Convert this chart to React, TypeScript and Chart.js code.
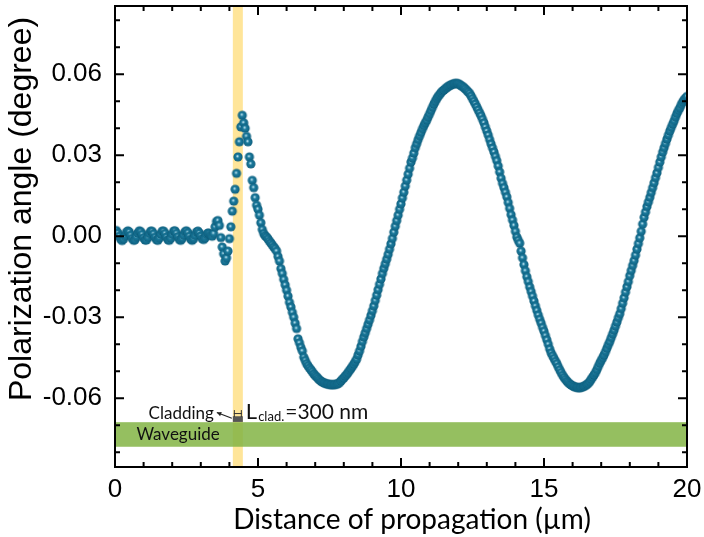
import React, { useEffect, useRef } from "react";
import { Chart, registerables } from "chart.js";

Chart.register(...registerables);

// ---- data (polarization angle sampled every 0.05 µm from 0 to 20 µm) ----
const DISTANCE_START = 0;
const DISTANCE_STEP = 0.05;
const polarizationAngle: number[] = [
  // 0.00 – 0.95
  0.0018, 0.0021, 0.0012, 0.0000, -0.0011, -0.0016, -0.0010, 0.0002, 0.0015, 0.0020, 0.0016, 0.0004, -0.0008, -0.0015, -0.0013, -0.0002, 0.0012, 0.0020, 0.0017, 0.0007,
  // 1.00 – 1.95
  -0.0006, -0.0014, -0.0014, -0.0004, 0.0010, 0.0019, 0.0018, 0.0009, -0.0004, -0.0013, -0.0015, -0.0006, 0.0008, 0.0019, 0.0019, 0.0010, -0.0003, -0.0013, -0.0015, -0.0007,
  // 2.00 – 2.95
  0.0007, 0.0019, 0.0020, 0.0011, -0.0002, -0.0012, -0.0015, -0.0008, 0.0005, 0.0017, 0.0020, 0.0013, 0.0000, -0.0011, -0.0015, -0.0009, 0.0004, 0.0016, 0.0019, 0.0012,
  // 3.00 – 3.95
  0.0001, -0.0009, -0.0012, -0.0006, 0.0006, 0.0012, 0.0010, 0.0004, 0.0000, 0.0010, 0.0035, 0.0055, 0.0058, 0.0040, -0.0005, -0.0040, -0.0065, -0.0092, -0.0080, -0.0055,
  // 4.00 – 4.95
  -0.0009, 0.0035, 0.0093, 0.0130, 0.0174, 0.0233, 0.0294, 0.0350, 0.0405, 0.0448, 0.0420, 0.0400, 0.0370, 0.0350, 0.0294, 0.0268, 0.0207, 0.0180, 0.0143, 0.0115,
  // 5.00 – 5.95
  0.0100, 0.0078, 0.0050, 0.0025, 0.0010, 0.0002, -0.0003, -0.0010, -0.0018, -0.0025, -0.0032, -0.0040, -0.0046, -0.0055, -0.0075, -0.0092, -0.0120, -0.0138, -0.0160, -0.0180,
  // 6.00 – 6.95
  -0.0200, -0.0222, -0.0245, -0.0262, -0.0282, -0.0300, -0.0322, -0.0342, -0.0380, -0.0395, -0.0412, -0.0425, -0.0448, -0.0460, -0.0472, -0.0480, -0.0488, -0.0495, -0.0502, -0.0510,
  // 7.00 – 7.95
  -0.0516, -0.0521, -0.0527, -0.0532, -0.0537, -0.0540, -0.0543, -0.0545, -0.0547, -0.0548, -0.0549, -0.0550, -0.0550, -0.0550, -0.0549, -0.0548, -0.0546, -0.0542, -0.0536, -0.0530,
  // 8.00 – 8.95
  -0.0525, -0.0518, -0.0512, -0.0505, -0.0497, -0.0490, -0.0482, -0.0474, -0.0465, -0.0455, -0.0440, -0.0425, -0.0408, -0.0390, -0.0373, -0.0358, -0.0342, -0.0326, -0.0310, -0.0293,
  // 9.00 – 9.95
  -0.0276, -0.0258, -0.0238, -0.0218, -0.0198, -0.0178, -0.0158, -0.0138, -0.0119, -0.0102, -0.0085, -0.0067, -0.0048, -0.0028, -0.0008, 0.0015, 0.0037, 0.0058, 0.0078, 0.0100,
  // 10.00 – 10.95
  0.0120, 0.0142, 0.0163, 0.0186, 0.0208, 0.0230, 0.0252, 0.0275, 0.0290, 0.0308, 0.0328, 0.0343, 0.0358, 0.0372, 0.0385, 0.0398, 0.0410, 0.0420, 0.0430, 0.0442,
  // 11.00 – 11.95
  0.0454, 0.0466, 0.0478, 0.0490, 0.0500, 0.0510, 0.0518, 0.0525, 0.0532, 0.0538, 0.0542, 0.0547, 0.0551, 0.0555, 0.0558, 0.0561, 0.0563, 0.0565, 0.0566, 0.0566,
  // 12.00 – 12.95
  0.0565, 0.0562, 0.0558, 0.0555, 0.0551, 0.0546, 0.0540, 0.0535, 0.0529, 0.0520, 0.0510, 0.0500, 0.0490, 0.0479, 0.0468, 0.0457, 0.0446, 0.0433, 0.0420, 0.0405,
  // 13.00 – 13.95
  0.0390, 0.0375, 0.0358, 0.0342, 0.0327, 0.0312, 0.0296, 0.0280, 0.0260, 0.0238, 0.0215, 0.0196, 0.0180, 0.0163, 0.0146, 0.0125, 0.0103, 0.0080, 0.0060, 0.0040,
  // 14.00 – 14.95
  0.0018, -0.0003, -0.0015, -0.0026, -0.0055, -0.0080, -0.0105, -0.0128, -0.0150, -0.0168, -0.0188, -0.0205, -0.0222, -0.0240, -0.0258, -0.0275, -0.0292, -0.0308, -0.0322, -0.0338,
  // 15.00 – 15.95
  -0.0352, -0.0368, -0.0384, -0.0400, -0.0418, -0.0432, -0.0443, -0.0453, -0.0463, -0.0472, -0.0484, -0.0495, -0.0505, -0.0515, -0.0523, -0.0530, -0.0537, -0.0542, -0.0547, -0.0551,
  // 16.00 – 16.95
  -0.0554, -0.0557, -0.0559, -0.0560, -0.0561, -0.0561, -0.0560, -0.0558, -0.0556, -0.0553, -0.0549, -0.0545, -0.0538, -0.0530, -0.0522, -0.0514, -0.0505, -0.0494, -0.0482, -0.0470,
  // 17.00 – 17.95
  -0.0460, -0.0450, -0.0440, -0.0428, -0.0415, -0.0402, -0.0390, -0.0376, -0.0362, -0.0348, -0.0333, -0.0318, -0.0302, -0.0287, -0.0268, -0.0248, -0.0228, -0.0207, -0.0187, -0.0168,
  // 18.00 – 18.95
  -0.0146, -0.0127, -0.0108, -0.0090, -0.0070, -0.0048, -0.0027, -0.0006, 0.0018, 0.0045, 0.0070, 0.0090, 0.0110, 0.0127, 0.0144, 0.0162, 0.0180, 0.0198, 0.0217, 0.0235,
  // 19.00 – 19.95
  0.0255, 0.0275, 0.0294, 0.0312, 0.0328, 0.0344, 0.0360, 0.0375, 0.0390, 0.0403, 0.0416, 0.0428, 0.0442, 0.0455, 0.0466, 0.0476, 0.0488, 0.0498, 0.0506, 0.0512,
  // 20.00
  0.0518,
];

// ---- axes ----
const X_MIN = 0;
const X_MAX = 20;
const Y_MIN = -0.0855;
const Y_MAX = 0.0853;
const X_MAJOR_TICKS = [0, 5, 10, 15, 20];
const X_TICK_LABELS = ["0", "5", "10", "15", "20"];
const X_MINOR_TICKS = [1, 2, 3, 4, 6, 7, 8, 9, 11, 12, 13, 14, 16, 17, 18, 19];
const Y_MAJOR_TICKS = [-0.06, -0.03, 0, 0.03, 0.06];
const Y_TICK_LABELS = ["-0.06", "-0.03", "0.00", "0.03", "0.06"];
const Y_MINOR_TICKS = [-0.08, -0.07, -0.05, -0.04, -0.02, -0.01, 0.01, 0.02, 0.04, 0.05, 0.07, 0.08];
const X_TITLE = "Distance of propagation (\u00b5m)";
const Y_TITLE = "Polarization angle (degree)";

// ---- annotation regions (data units) ----
const CLADDING_START = 4.12;
const CLADDING_END = 4.47;
const WAVEGUIDE_TOP = -0.0689;
const WAVEGUIDE_BOTTOM = -0.078;
const CLAD_BLOCK_TOP = -0.0667;
const CLAD_BLOCK_BOTTOM = -0.0688;
const BRACKET_Y = -0.0657;
const CLADDING_LABEL = "Cladding";
const WAVEGUIDE_LABEL = "Waveguide";
const LENGTH_LABEL_MAIN = "L";
const LENGTH_LABEL_SUB = "clad.";
const LENGTH_LABEL_VALUE = "=300 nm";

const TICK_FONT = "'Liberation Sans', Arial, sans-serif";
const TITLE_FONT_X = "Lato, 'Open Sans', sans-serif";
const NOTE_FONT = "Lato, 'Open Sans', sans-serif";

function makeSphere(r: number): HTMLCanvasElement {
  const size = Math.ceil(r * 2) + 2;
  const c = document.createElement("canvas");
  c.width = size;
  c.height = size;
  const g = c.getContext("2d")!;
  const cx = size / 2;
  const cy = size / 2;
  const grad = g.createRadialGradient(cx - r * 0.15, cy - r * 0.2, 0, cx, cy, r);
  grad.addColorStop(0, "#f2fbfe");
  grad.addColorStop(0.16, "#8cc6da");
  grad.addColorStop(0.38, "#1d7a9c");
  grad.addColorStop(0.8, "#126a8b");
  grad.addColorStop(1, "#0c5a78");
  g.fillStyle = grad;
  g.beginPath();
  g.arc(cx, cy, r, 0, Math.PI * 2);
  g.fill();
  return c;
}

const decorPlugin = {
  id: "decor",
  beforeDatasetsDraw(chart: any) {
    const { ctx, chartArea: a, scales } = chart;
    const x = scales.x;
    const y = scales.y;
    ctx.save();
    ctx.beginPath();
    ctx.rect(a.left, a.top, a.right - a.left, a.bottom - a.top);
    ctx.clip();
    const x1 = x.getPixelForValue(CLADDING_START);
    const x2 = x.getPixelForValue(CLADDING_END);
    ctx.fillStyle = "#ffe599";
    ctx.fillRect(x1, a.top, x2 - x1, a.bottom - a.top);
    const yT = y.getPixelForValue(WAVEGUIDE_TOP);
    const yB = y.getPixelForValue(WAVEGUIDE_BOTTOM);
    ctx.fillStyle = "rgba(130,180,68,0.85)";
    ctx.fillRect(a.left, yT, a.right - a.left, yB - yT);
    ctx.restore();
  },
  afterDatasetsDraw(chart: any) {
    const { ctx, chartArea: a, scales } = chart;
    const x = scales.x;
    const y = scales.y;
    ctx.save();

    // cladding block + bracket
    const x1 = x.getPixelForValue(CLADDING_START);
    const x2 = x.getPixelForValue(CLADDING_END);
    const bT = y.getPixelForValue(CLAD_BLOCK_TOP);
    const bB = y.getPixelForValue(CLAD_BLOCK_BOTTOM);
    ctx.fillStyle = "#555555";
    ctx.fillRect(x1, bT, x2 - x1, bB - bT);
    const by = y.getPixelForValue(BRACKET_Y);
    ctx.strokeStyle = "#333333";
    ctx.lineWidth = 1;
    ctx.beginPath();
    ctx.moveTo(x1 + 1, by);
    ctx.lineTo(x2 - 1, by);
    ctx.moveTo(x1 + 1.5, by - 3.5);
    ctx.lineTo(x1 + 1.5, by + 3.5);
    ctx.moveTo(x2 - 1.5, by - 3.5);
    ctx.lineTo(x2 - 1.5, by + 3.5);
    ctx.stroke();

    // arrow from block to "Cladding"
    const ax0 = x1 - 1;
    const ay0 = bT + 2;
    const ax1 = x1 - 16;
    const ay1 = by - 1;
    ctx.strokeStyle = "#222";
    ctx.lineWidth = 1.2;
    ctx.beginPath();
    ctx.moveTo(ax0, ay0);
    ctx.lineTo(ax1, ay1);
    ctx.stroke();
    const ang = Math.atan2(ay1 - ay0, ax1 - ax0);
    ctx.fillStyle = "#222";
    ctx.beginPath();
    ctx.moveTo(ax1, ay1);
    ctx.lineTo(ax1 - 5 * Math.cos(ang - 0.5), ay1 - 5 * Math.sin(ang - 0.5));
    ctx.lineTo(ax1 - 5 * Math.cos(ang + 0.5), ay1 - 5 * Math.sin(ang + 0.5));
    ctx.closePath();
    ctx.fill();

    // labels
    ctx.fillStyle = "#111";
    ctx.textBaseline = "alphabetic";
    ctx.textAlign = "right";
    ctx.font = `17px ${NOTE_FONT}`;
    ctx.fillText(CLADDING_LABEL, ax1 - 3, by + 5);

    ctx.textAlign = "left";
    const yW = (y.getPixelForValue(WAVEGUIDE_TOP) + y.getPixelForValue(WAVEGUIDE_BOTTOM)) / 2;
    ctx.font = `17px ${NOTE_FONT}`;
    ctx.fillText(WAVEGUIDE_LABEL, x.getPixelForValue(0.75), yW + 6);

    let lx = x2 + 3;
    const lBase = bB - 3;
    ctx.font = `22px ${NOTE_FONT}`;
    ctx.fillText(LENGTH_LABEL_MAIN, lx, lBase);
    lx += ctx.measureText(LENGTH_LABEL_MAIN).width + 1;
    ctx.font = `13px ${NOTE_FONT}`;
    ctx.fillText(LENGTH_LABEL_SUB, lx, lBase + 2);
    lx += ctx.measureText(LENGTH_LABEL_SUB).width + 1;
    ctx.font = `21px ${NOTE_FONT}`;
    ctx.fillText(LENGTH_LABEL_VALUE, lx, lBase);

    // frame
    ctx.strokeStyle = "#000";
    ctx.lineWidth = 2;
    ctx.strokeRect(a.left, a.top, a.right - a.left, a.bottom - a.top);

    // inward ticks on all four sides
    const MAJ = 9;
    const MIN = 5;
    ctx.lineWidth = 2;
    ctx.beginPath();
    const xTick = (v: number, len: number) => {
      const px = x.getPixelForValue(v);
      ctx.moveTo(px, a.bottom);
      ctx.lineTo(px, a.bottom - len);
      ctx.moveTo(px, a.top);
      ctx.lineTo(px, a.top + len);
    };
    const yTick = (v: number, len: number) => {
      const py = y.getPixelForValue(v);
      ctx.moveTo(a.left, py);
      ctx.lineTo(a.left + len, py);
      ctx.moveTo(a.right, py);
      ctx.lineTo(a.right - len, py);
    };
    X_MAJOR_TICKS.forEach((v) => xTick(v, MAJ));
    X_MINOR_TICKS.forEach((v) => xTick(v, MIN));
    Y_MAJOR_TICKS.forEach((v) => yTick(v, MAJ));
    Y_MINOR_TICKS.forEach((v) => yTick(v, MIN));
    ctx.stroke();

    // axis titles
    ctx.fillStyle = "#000";
    ctx.textAlign = "center";
    ctx.textBaseline = "middle";
    ctx.font = `28px ${TITLE_FONT_X}`;
    ctx.fillText(X_TITLE, 412, 520);
    ctx.translate(22, 209);
    ctx.rotate(-Math.PI / 2);
    ctx.font = `32px ${TICK_FONT}`;
    ctx.fillText(Y_TITLE, 0, 0);

    ctx.restore();
  },
};

const zeroPadding = (scale: any) => {
  scale.paddingTop = 0;
  scale.paddingBottom = 0;
  scale.paddingLeft = 0;
  scale.paddingRight = 0;
};

export default function App() {
  const canvasRef = useRef<HTMLCanvasElement | null>(null);

  useEffect(() => {
    const canvas = canvasRef.current;
    if (!canvas) return;
    const sphere = makeSphere(4.6);
    const points = polarizationAngle.map((v, i) => ({
      x: DISTANCE_START + i * DISTANCE_STEP,
      y: v,
    }));
    const chart = new Chart(canvas, {
      type: "scatter",
      data: {
        datasets: [
          {
            data: points,
            pointStyle: sphere as any,
            pointRadius: 4.5,
            showLine: false,
          },
        ],
      },
      options: {
        animation: false,
        responsive: false,
        events: [],
        layout: { padding: { top: 6, right: 17, left: 0, bottom: 0 } },
        plugins: {
          legend: { display: false },
          tooltip: { enabled: false },
        },
        scales: {
          x: {
            type: "linear",
            min: X_MIN,
            max: X_MAX,
            grid: { display: false, drawTicks: false },
            border: { display: false },
            afterBuildTicks: (scale: any) => {
              scale.ticks = X_MAJOR_TICKS.map((v) => ({ value: v }));
            },
            afterFit: (scale: any) => {
              scale.height = 70;
              zeroPadding(scale);
            },
            ticks: {
              padding: 7,
              color: "#000",
              font: { family: TICK_FONT, size: 26 },
              maxRotation: 0,
              autoSkip: false,
              callback: (_v: any, i: number) => X_TICK_LABELS[i],
            },
          },
          y: {
            type: "linear",
            min: Y_MIN,
            max: Y_MAX,
            grid: { display: false, drawTicks: false },
            border: { display: false },
            afterBuildTicks: (scale: any) => {
              scale.ticks = Y_MAJOR_TICKS.map((v) => ({ value: v }));
            },
            afterFit: (scale: any) => {
              scale.width = 115;
              zeroPadding(scale);
            },
            ticks: {
              padding: 13,
              color: "#000",
              font: { family: TICK_FONT, size: 26 },
              autoSkip: false,
              callback: (_v: any, i: number) => Y_TICK_LABELS[i],
            },
          },
        },
      },
      plugins: [decorPlugin],
    });
    return () => chart.destroy();
  }, []);

  return (
    <div style={{ position: "absolute", left: 0, top: 0, width: 704, height: 537, background: "#fff" }}>
      <canvas ref={canvasRef} width={704} height={537} style={{ display: "block" }} />
    </div>
  );
}
